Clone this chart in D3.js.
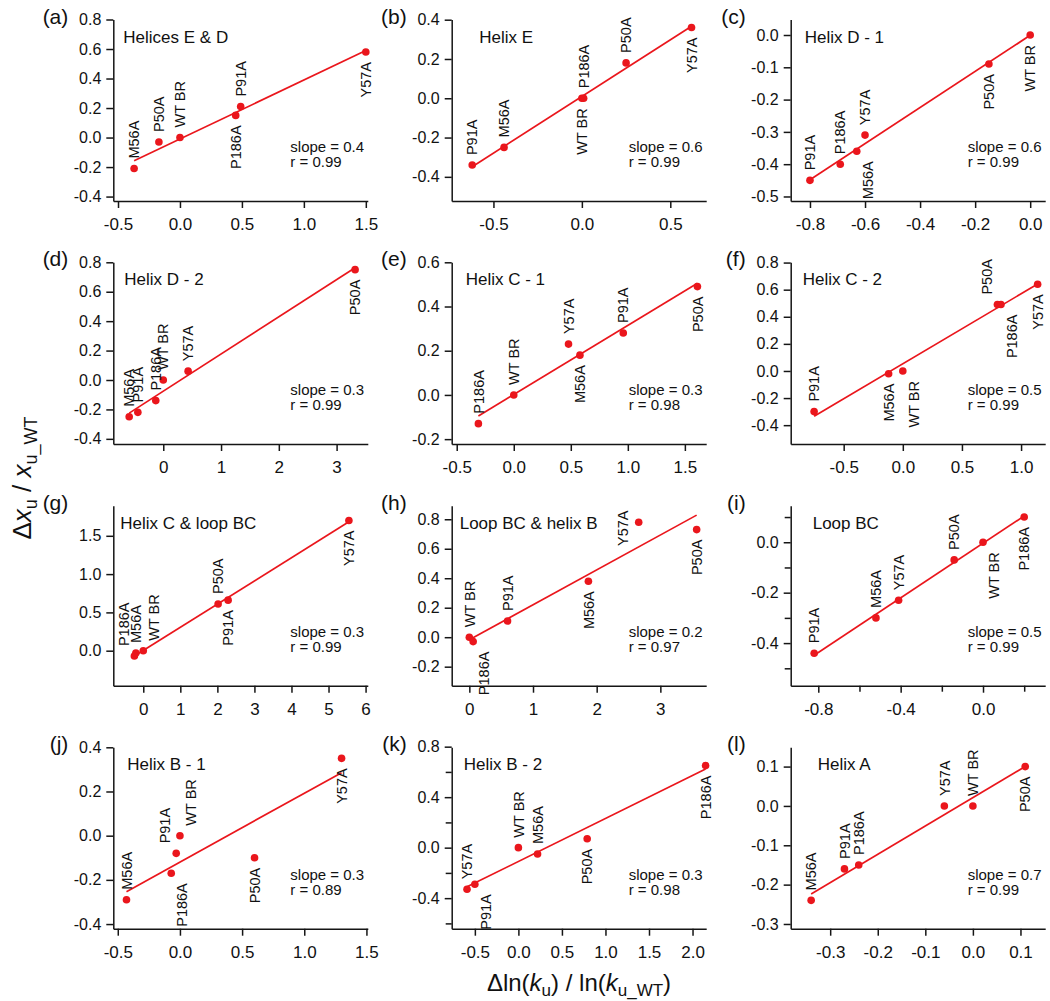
<!DOCTYPE html>
<html><head><meta charset="utf-8">
<script src="https://cdn.jsdelivr.net/npm/d3@7"></script>
<style>
body{margin:0;background:#fff}
svg text{font-family:"Liberation Sans",Arial,Helvetica,sans-serif;fill:#111}
</style>
</head><body>
<svg id="chart" width="1050" height="1001"></svg>
<script>
// ---------- DATA ----------
const mutants = ["WT BR","P50A","M56A","Y57A","P91A","P186A"];
const panelLetters = ["(a)","(b)","(c)","(d)","(e)","(f)","(g)","(h)","(i)","(j)","(k)","(l)"];
const panelTitles = ["Helices E & D","Helix E","Helix D - 1","Helix D - 2","Helix C - 1","Helix C - 2",
                     "Helix C & loop BC","Loop BC & helix B","Loop BC","Helix B - 1","Helix B - 2","Helix A"];
const slopeTexts = ["0.4","0.6","0.6","0.3","0.3","0.5","0.3","0.2","0.5","0.3","0.3","0.7"];
const rTexts     = ["0.99","0.99","0.99","0.99","0.98","0.99","0.99","0.97","0.99","0.89","0.98","0.99"];

// x = Δln(ku)/ln(ku_WT), y = Δxu/xu_WT ; order follows `mutants`
const xValues = [
  [0, -0.17, -0.37,  1.50, 0.49,  0.45],   // a
  [0,  0.25, -0.44,  0.62,-0.62,  0.01],   // b
  [0, -0.15, -0.63, -0.60,-0.80, -0.69],   // c
  [0,  3.32, -0.59,  0.43,-0.44, -0.13],   // d
  [0,  1.61,  0.58,  0.48, 0.96, -0.31],   // e
  [0,  0.80, -0.12,  1.14,-0.75,  0.83],   // f
  [0,  2.02, -0.20,  5.55, 2.29, -0.24],   // g
  [0,  3.57,  1.87,  2.66, 0.60,  0.06],   // h
  [0, -0.14, -0.52, -0.41,-0.82,  0.20],   // i
  [0,  0.60, -0.43,  1.30,-0.03, -0.07],   // j
  [0,  0.79,  0.22, -0.59,-0.50,  2.15],   // k
  [0,  0.11, -0.34, -0.06,-0.27, -0.24]    // l
];
const yValues = [
  [0, -0.03, -0.21,  0.58, 0.21,  0.15],
  [0,  0.18, -0.25,  0.36,-0.34,  0.00],
  [0, -0.09, -0.36, -0.31,-0.45, -0.40],
  [0,  0.75, -0.25,  0.06,-0.22, -0.14],
  [0,  0.49,  0.18,  0.23, 0.28, -0.13],
  [0,  0.49, -0.02,  0.64,-0.30,  0.49],
  [0,  0.61, -0.03,  1.70, 0.66, -0.07],
  [0,  0.73,  0.38,  0.78, 0.11, -0.03],
  [0, -0.07, -0.30, -0.23,-0.44,  0.10],
  [0, -0.10, -0.29,  0.35,-0.08, -0.17],
  [0,  0.07, -0.05, -0.33,-0.29,  0.65],
  [0,  0.10, -0.24,  0.00,-0.16, -0.15]
];
// label side: a = above, b = below, l = left ; + / - = nudge right / left
const labelSides = [
  ["a","a","a","b","a","b"],
  ["b","a","a","b","a","a"],
  ["b","b","b+","a","a","a"],
  ["a","b","a","a","a","a"],
  ["a","b","b","a","a","a"],
  ["b+","a-","b","b","a","b+"],
  ["a+","a","a","b","b","a-"],
  ["a","b","b","l","a","b+"],
  ["b+","a","a","a","a","b"],
  ["a+","b","a","b","a-","b+"],
  ["a","b","a","a","b+","b"],
  ["a","b","a","a","a","a"]
];
const xDomains = [[-0.538,1.516],[-0.736,0.703],[-0.870,0.0545],[-0.865,3.54],[-0.544,1.687],[-0.948,1.204],
                  [-0.809,6.06],[-0.277,3.72],[-0.934,0.302],[-0.536,1.511],[-0.766,2.157],[-0.383,0.152]];
const yDomains = [[-0.43,0.80],[-0.523,0.401],[-0.514,0.048],[-0.435,0.80],[-0.222,0.60],[-0.539,0.802],
                  [-0.457,1.893],[-0.329,0.892],[-0.569,0.145],[-0.421,0.40],[-0.642,0.795],[-0.312,0.149]];
const xTickValues = [
  [-0.5,0,0.5,1,1.5],[-0.5,0,0.5],[-0.8,-0.6,-0.4,-0.2,0],[0,1,2,3],[-0.5,0,0.5,1,1.5],[-0.5,0,0.5,1],
  [0,1,2,3,4,5,6],[0,1,2,3],[-0.8,-0.4,0],[-0.5,0,0.5,1,1.5],[-0.5,0,0.5,1,1.5,2],[-0.3,-0.2,-0.1,0,0.1]
];
const xMinorTickValues = [[],[],[],[],[],[],[],[],[-0.6,-0.2,0.2],[],[],[]];
const yTickValues = [
  [-0.4,-0.2,0,0.2,0.4,0.6,0.8],[-0.4,-0.2,0,0.2,0.4],[-0.5,-0.4,-0.3,-0.2,-0.1,0],
  [-0.4,-0.2,0,0.2,0.4,0.6,0.8],[-0.2,0,0.2,0.4,0.6],[-0.4,-0.2,0,0.2,0.4,0.6,0.8],
  [0,0.5,1,1.5],[-0.2,0,0.2,0.4,0.6,0.8],[-0.4,-0.2,0],
  [-0.4,-0.2,0,0.2,0.4],[-0.4,0,0.4,0.8],[-0.3,-0.2,-0.1,0,0.1]
];
const yMinorTickValues = [[],[],[],[],[],[],[],[],[-0.5,-0.3,-0.1,0.1],[],[-0.6,-0.2,0.2,0.6],[]];
const integerXPanels = [3,6,7];

// ---------- LAYOUT ----------
const colLeft = [113.3,451.7,790.7], plotW = 254.5;
const rowTop = [19.5,262.3,505.7,747.3], rowBottom = [201,444,685.7,928.7];
const titleDx = [10,27.6,14,11,14,12,7,8,22,14,12,27];
const red = "#ea161c", ink = "#151515";

const svg = d3.select("#chart");
const fmt1 = v => d3.format(".1f")(v).replace("\u2212","-");
const fmt0 = v => d3.format("d")(v).replace("\u2212","-");

function styleAxis(sel, fs){
  sel.attr("font-family",null).attr("font-size",null);
  sel.selectAll(".domain").attr("stroke",ink).attr("stroke-width",1.5);
  sel.selectAll(".tick line").attr("stroke",ink).attr("stroke-width",1.5);
  sel.selectAll(".tick text").attr("font-size",fs).attr("fill",ink);
}

panelTitles.forEach((title,i)=>{
  const c = i%3, r = Math.floor(i/3);
  const x0 = colLeft[c], x1 = x0+plotW, y0 = rowTop[r], y1 = rowBottom[r];
  const xs = d3.scaleLinear().domain(xDomains[i]).range([x0,x1]);
  const ys = d3.scaleLinear().domain(yDomains[i]).range([y1,y0]);
  const g = svg.append("g");
  const xf = integerXPanels.includes(i) ? fmt0 : fmt1;

  // minor ticks
  if (xMinorTickValues[i].length){
    const m = g.append("g").attr("transform",`translate(0,${y1})`)
      .call(d3.axisBottom(xs).tickValues(xMinorTickValues[i]).tickSize(6).tickFormat(""));
    m.select(".domain").remove(); styleAxis(m,16);
  }
  if (yMinorTickValues[i].length){
    const m = g.append("g").attr("transform",`translate(${x0},0)`)
      .call(d3.axisLeft(ys).tickValues(yMinorTickValues[i]).tickSize(6).tickFormat(""));
    m.select(".domain").remove(); styleAxis(m,16);
  }
  const gx = g.append("g").attr("transform",`translate(0,${y1})`)
    .call(d3.axisBottom(xs).tickValues(xTickValues[i]).tickSize(7).tickSizeOuter(0).tickPadding(10).tickFormat(xf));
  styleAxis(gx,17);
  const gy = g.append("g").attr("transform",`translate(${x0},0)`)
    .call(d3.axisLeft(ys).tickValues(yTickValues[i]).tickSize(7).tickSizeOuter(0).tickPadding(5).tickFormat(fmt1));
  styleAxis(gy,16);

  // regression line from the points
  const pts = mutants.map((m,k)=>({name:m, x:xValues[i][k], y:yValues[i][k], side:labelSides[i][k]}));
  const mx = d3.mean(pts,d=>d.x), my = d3.mean(pts,d=>d.y);
  const sxy = d3.sum(pts,d=>(d.x-mx)*(d.y-my)), sxx = d3.sum(pts,d=>(d.x-mx)**2);
  const slope = sxy/sxx, icpt = my - slope*mx;
  const [xmin,xmax] = d3.extent(pts,d=>d.x);
  g.append("path")
    .attr("d", d3.line().x(d=>xs(d)).y(d=>ys(slope*d+icpt))([xmin,xmax]))
    .attr("stroke",red).attr("stroke-width",1.7).attr("fill","none");

  g.selectAll("circle.pt").data(pts).join("circle")
    .attr("cx",d=>xs(d.x)).attr("cy",d=>ys(d.y)).attr("r",3.8).attr("fill",red);

  // point labels (rotated)
  pts.forEach(d=>{
    const px = xs(d.x), py = ys(d.y);
    let nx = 0;
    if (d.side.includes("+")) nx = 11;
    if (d.side.includes("-")) nx = -11;
    let tx = px+nx, ty, anchor;
    if (d.side[0]==="a"){ ty = py-10; anchor="start"; }
    else if (d.side[0]==="b"){ ty = py+10; anchor="end"; }
    else { tx = px-16; ty = py+6; anchor="middle"; }
    g.append("text").attr("x",tx).attr("y",ty).attr("dy","0.36em")
      .attr("transform",`rotate(-90,${tx},${ty})`)
      .attr("text-anchor",anchor).attr("font-size",14.5).text(d.name);
  });

  // panel title, letter, stats
  g.append("text").attr("x",x0+titleDx[i]).attr("y",y0+23).attr("font-size",17).text(title);
  g.append("text").attr("x",x0-45).attr("y",y0+4).attr("text-anchor","end").attr("font-size",21).text(panelLetters[i]);
  g.append("text").attr("x",x0+177).attr("y",y1-49).attr("font-size",15).text("slope = "+slopeTexts[i]);
  g.append("text").attr("x",x0+177).attr("y",y1-34).attr("font-size",15).text("r = "+rTexts[i]);
});

// axis titles
const yt = svg.append("text").attr("transform","translate(31,478) rotate(-90)")
  .attr("text-anchor","middle").attr("font-size",26);
yt.append("tspan").text("\u0394");
yt.append("tspan").attr("font-style","italic").text("x");
yt.append("tspan").attr("font-size",18).attr("dy",6).text("u");
yt.append("tspan").attr("dy",-6).text(" / ");
yt.append("tspan").attr("font-style","italic").text("x");
yt.append("tspan").attr("font-size",18).attr("dy",6).text("u_WT");

const xt = svg.append("text").attr("x",579).attr("y",991)
  .attr("text-anchor","middle").attr("font-size",24);
xt.append("tspan").text("\u0394ln(");
xt.append("tspan").attr("font-style","italic").text("k");
xt.append("tspan").attr("font-size",17).attr("dy",5).text("u");
xt.append("tspan").attr("dy",-5).text(") / ln(");
xt.append("tspan").attr("font-style","italic").text("k");
xt.append("tspan").attr("font-size",17).attr("dy",5).text("u_WT");
xt.append("tspan").attr("dy",-5).text(")");
</script>
</body></html>
